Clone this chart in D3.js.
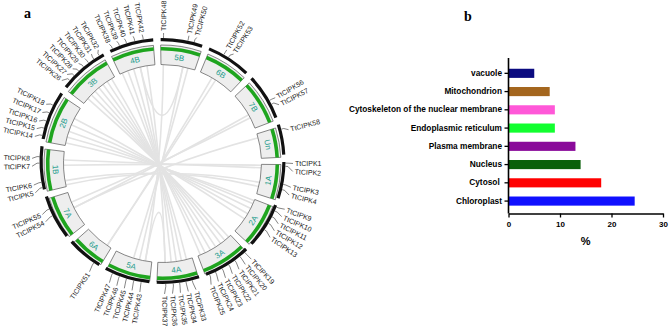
<!DOCTYPE html>
<html>
<head>
<meta charset="utf-8">
<script src="https://cdn.jsdelivr.net/npm/d3@7/dist/d3.min.js"></script>
<style>
  body { margin: 0; background: #fff; }
  svg { display: block; font-family: Arial, "Liberation Sans", sans-serif; }
</style>
</head>
<body>
<svg id="chart" width="669" height="328"></svg>
<script>
// ---------- data: panel a (chromosomes, genes, links) ----------
const chromNames   = ["1A","2A","3A","4A","5A","6A","7A","1B","2B","3B","4B","5B","6B","7B","Un"];
const chromLengths = [600, 750, 780, 700, 750, 590, 730, 710, 810, 820, 730, 690, 730, 760, 500]; // Mb

// TtCIPK1 .. TtCIPK58 : chromosome and position (Mb)
const geneChrom = ["1A","1A","1A","1A","1B","1B","1B","1B",
                   "2A","2A","2A","2A","2A","2B","2B","2B","2B","2B",
                   "3A","3A","3A","3A","3A","3A","3A","3B","3B","3B","3B","3B","3B","3B",
                   "4A","4A","4A","4A","4A","4B","4B","4B","4B","4B",
                   "5A","5A","5A","5A","5A","5B","5B","5B",
                   "6A","6B","6B","7A","7A","7B","7B","Un"];
const genePos   = [17, 69, 364, 450, 35, 122, 434, 538,
                   24, 93, 197, 318, 439, 53, 174, 295, 434, 572,
                   53, 156, 260, 381, 503, 624, 728, 126, 230, 334, 438, 542, 646, 750,
                   121, 225, 329, 433, 554, 50, 172, 293, 431, 570,
                   131, 252, 374, 495, 616, 47, 444, 548,
                   91, 258, 345, 402, 523, 463, 532, 84];

// collinear pairs (gene numbers)
const linkPairs = [[1,7],[2,8],[3,5],[4,6],
                   [9,14],[10,15],[11,16],[12,17],[13,18],
                   [19,26],[20,27],[21,28],[22,29],[23,30],[24,31],[25,32],
                   [33,38],[34,39],[35,40],[36,41],[37,42],
                   [43,48],[44,49],[45,50],[37,43],[41,49],
                   [51,52],[51,53],[54,56],[55,57],[58,54]];

// ---------- data: panel b ----------
const locNames  = ["vacuole","Mitochondrion","Cytoskeleton of the nuclear membrane","Endoplasmic reticulum",
                   "Plasma membrane","Nucleus","Cytosol","Chloroplast"];
const locValues = [5, 8, 9, 9, 13, 14, 18, 24.5];
const locColors = ["#0b0b80","#a4661e","#ff58d8","#12ff30","#8a0a9a","#0a600a","#ff0000","#1010ff"];
const xTicks    = [0, 10, 20, 30];

const svg = d3.select('#chart');
const rad = d => d * Math.PI / 180;
const pt = (a, r) => [r * Math.sin(rad(a)), -r * Math.cos(rad(a))];
const norm = a => ((a % 360) + 360) % 360;

// ================= panel a =================
const cx = 162.5, cy = 163.5;   // centre of the boxes and labels
const ringDy = -2.5;            // black outer ring sits slightly higher
const gapDeg = 3.5, startDeg = 90.5;
const degPerMb = (360 - gapDeg * chromNames.length) / d3.sum(chromLengths);

let acc = startDeg;
const chroms = chromNames.map((name, i) => {
    const start = acc, end = acc + chromLengths[i] * degPerMb;
    acc = end + gapDeg;
    return {name, start, end, scale: d3.scaleLinear().domain([0, chromLengths[i]]).range([start, end])};
});
const chromByName = new Map(chroms.map(c => [c.name, c]));

const genes = geneChrom.map((c, i) => ({
    id: i + 1,
    name: 'TtCIPK' + (i + 1),
    angle: chromByName.get(c).scale(genePos[i])
}));

// label layout: push labels apart so they keep a minimum spacing
const sep = 3.5;
const sorted = genes.slice().sort((a, b) => a.angle - b.angle);
sorted.forEach(g => g.la = g.angle);
for (let it = 0; it < 300; it++) {
    for (let i = 0; i < sorted.length - 1; i++) {
        const d = sorted[i + 1].la - sorted[i].la;
        if (d < sep) {
            const m = (sep - d) / 2;
            sorted[i].la -= m;
            sorted[i + 1].la += m;
        }
    }
}

const gA = svg.append('g').attr('transform', `translate(${cx},${cy})`);

// links
const rLink = 98.5;
gA.append('g').selectAll('path')
    .data(linkPairs)
    .join('path')
    .attr('d', ([a, b]) => {
        const p1 = pt(genes[a - 1].angle, rLink), p2 = pt(genes[b - 1].angle, rLink);
        return `M${p1}Q0,0 ${p2}`;
    })
    .attr('fill', 'none')
    .attr('stroke', '#e3e3e3')
    .attr('stroke-width', 1.6);

// chromosome boxes
const boxArc = d3.arc().innerRadius(99).outerRadius(118.5)
    .startAngle(d => rad(d.start)).endAngle(d => rad(d.end));
const greenArc = d3.arc().innerRadius(113).outerRadius(116.6)
    .startAngle(d => rad(d.start)).endAngle(d => rad(d.end));

gA.selectAll('path.box')
    .data(chroms)
    .join('path')
    .attr('class', 'box')
    .attr('d', boxArc)
    .attr('fill', '#eeeeee')
    .attr('stroke', '#555')
    .attr('stroke-width', 0.7);

gA.selectAll('path.green')
    .data(chroms)
    .join('path')
    .attr('class', 'green')
    .attr('d', greenArc)
    .attr('fill', '#1fa51f');

gA.selectAll('text.chr')
    .data(chroms)
    .join('text')
    .attr('class', 'chr')
    .attr('transform', d => {
        const mid = (d.start + d.end) / 2;
        const n = norm(mid);
        const rot = (n > 90 && n < 270) ? mid - 180 : mid;
        return `translate(${pt(mid, 107)}) rotate(${rot})`;
    })
    .attr('text-anchor', 'middle')
    .attr('dy', '0.35em')
    .attr('fill', '#1c9c8c')
    .style('font-size', '8px')
    .text(d => d.name);

// black ring
const blackArc = d3.arc().innerRadius(119.8).outerRadius(123)
    .startAngle(d => rad(d.start)).endAngle(d => rad(d.end));
gA.append('g')
    .attr('transform', `translate(0,${ringDy})`)
    .selectAll('path')
    .data(chroms)
    .join('path')
    .attr('d', blackArc)
    .attr('fill', '#111');

// leaders and gene labels
const shift = p => [p[0], p[1] + ringDy];
gA.selectAll('polyline')
    .data(genes)
    .join('polyline')
    .attr('points', d => [shift(pt(d.angle, 123)), shift(pt(d.angle, 125.5)), pt(d.la, 130.5)].join(' '))
    .attr('fill', 'none')
    .attr('stroke', '#333')
    .attr('stroke-width', 0.6);

gA.selectAll('text.gene')
    .data(genes)
    .join('text')
    .attr('class', 'gene')
    .attr('transform', d => norm(d.la) > 180
        ? `rotate(${d.la - 90}) translate(132.5,0) rotate(180)`
        : `rotate(${d.la - 90}) translate(132.5,0)`)
    .attr('text-anchor', d => norm(d.la) > 180 ? 'end' : 'start')
    .attr('dy', '0.35em')
    .attr('fill', '#222')
    .style('font-size', '7px')
    .text(d => d.name);

svg.append('text')
    .attr('x', 24).attr('y', 18)
    .style('font-family', '"Liberation Serif", "Times New Roman", serif')
    .style('font-weight', 'bold')
    .style('font-size', '14px')
    .text('a');

// ================= panel b =================
const x = d3.scaleLinear().domain([0, 30]).range([508.5, 663]);
const y = d3.scaleBand().domain(locNames).range([64.2, 210.2]).paddingInner(0.5).paddingOuter(0.25);
const baseY = 213.5;

svg.append('g').selectAll('rect')
    .data(locNames)
    .join('rect')
    .attr('x', x(0))
    .attr('y', d => y(d))
    .attr('width', (d, i) => x(locValues[i]) - x(0))
    .attr('height', y.bandwidth())
    .attr('fill', (d, i) => locColors[i]);

const yAxis = svg.append('g')
    .attr('transform', `translate(${x(0)},0)`)
    .call(d3.axisLeft(y).tickSize(4).tickSizeOuter(0).tickPadding(2.5));
yAxis.select('.domain').remove();
yAxis.selectAll('line').attr('stroke', '#000').attr('stroke-width', 1.3);
yAxis.selectAll('text')
    .attr('fill', '#000')
    .style('font-size', '8.3px')
    .style('font-weight', 'bold')
    .style('font-family', 'Arial, "Liberation Sans", sans-serif')
    .style('white-space', 'pre')
    .text(d => d === 'Cytosol' ? 'Cytosol ' : d);

svg.append('line')
    .attr('x1', x(0)).attr('x2', x(0))
    .attr('y1', 58).attr('y2', baseY)
    .attr('stroke', '#000').attr('stroke-width', 1.6);

const xAxis = svg.append('g')
    .attr('transform', `translate(0,${baseY})`)
    .call(d3.axisBottom(x).tickValues(xTicks).tickSize(4).tickSizeOuter(0).tickPadding(4));
xAxis.select('.domain').attr('stroke', '#000').attr('stroke-width', 1.6);
xAxis.selectAll('line').attr('stroke', '#000').attr('stroke-width', 1.3);
xAxis.selectAll('text')
    .attr('fill', '#000')
    .style('font-size', '8px')
    .style('font-weight', 'bold')
    .style('font-family', 'Arial, "Liberation Sans", sans-serif');

svg.append('text')
    .attr('x', (x(0) + x(30)) / 2)
    .attr('y', 245)
    .attr('text-anchor', 'middle')
    .style('font-size', '11px')
    .style('font-weight', 'bold')
    .text('%');

svg.append('text')
    .attr('x', 464).attr('y', 21)
    .style('font-family', '"Liberation Serif", "Times New Roman", serif')
    .style('font-weight', 'bold')
    .style('font-size', '14px')
    .text('b');
</script>
</body>
</html>
